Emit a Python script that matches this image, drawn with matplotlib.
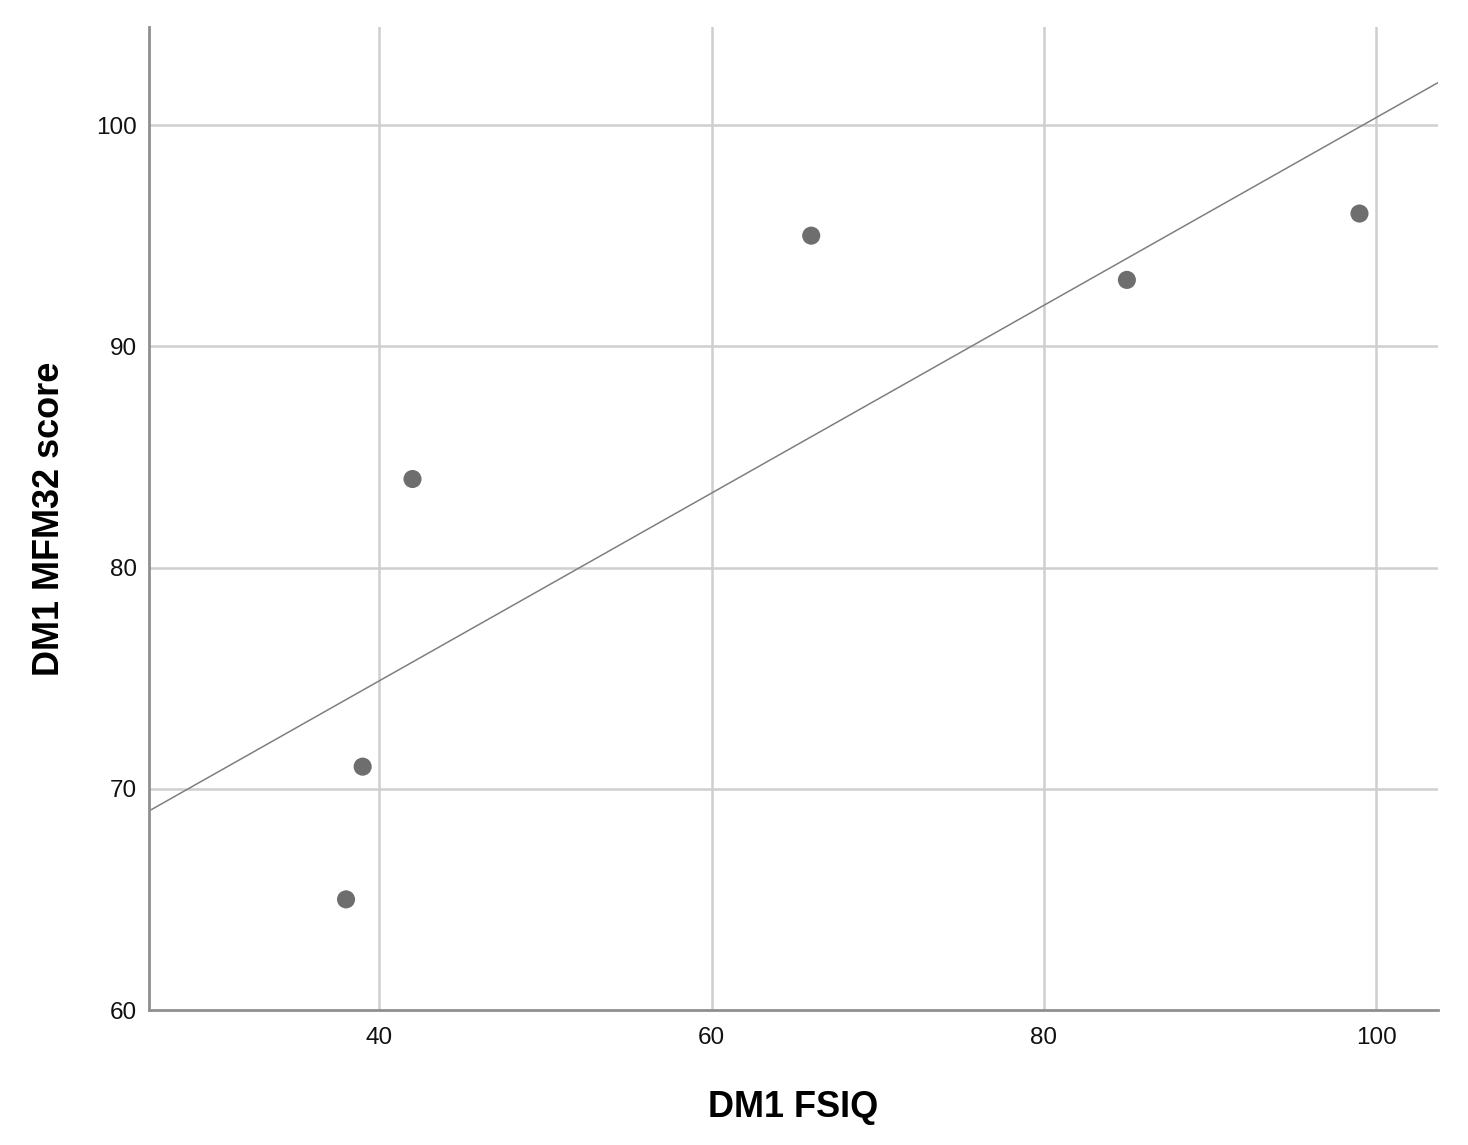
import numpy as np
import matplotlib
matplotlib.use("Agg")
import matplotlib.pyplot as plt

plt.rcParams['font.family'] = ['Liberation Sans', 'DejaVu Sans']

fsiq = [38, 39, 42, 66, 85, 99]
mfm32 = [65, 71, 84, 95, 93, 96]
xticks = [40, 60, 80, 100]
yticks = [60, 70, 80, 90, 100]

fig = plt.figure(figsize=(14.68, 11.45), dpi=100)
ax = fig.add_axes([0.1015, 0.1179, 0.8781, 0.8585])

xlim = (26.14, 103.73)
ylim = (60.0, 104.43)

for xv in xticks:
    ax.axvline(xv, color='#cfcfcf', lw=1.8, zorder=1)
for yv in yticks[1:]:
    ax.axhline(yv, color='#cfcfcf', lw=1.8, zorder=1)

slope, intercept = np.polyfit(fsiq, mfm32, 1)
xl = np.array(xlim)
ax.plot(xl, slope * xl + intercept, color='#7f7f7f', lw=1.1, zorder=2)

ax.scatter(fsiq, mfm32, s=170, color='#6e6e6e', edgecolors='none', zorder=3)

ax.set_xlim(*xlim)
ax.set_ylim(*ylim)
ax.set_xticks(xticks)
ax.set_yticks(yticks)
ax.tick_params(length=0, labelsize=17.5, colors='#111111', pad=12)
ax.tick_params(axis='y', pad=9)

for s in ['top', 'right']:
    ax.spines[s].set_visible(False)
for s in ['left', 'bottom']:
    ax.spines[s].set_color('#8f8f8f')
    ax.spines[s].set_linewidth(2.0)

ax.set_xlabel('DM1 FSIQ', fontsize=26, fontweight='bold', labelpad=30)
ax.set_ylabel('DM1 MFM32 score', fontsize=26, fontweight='bold', labelpad=21)

fig.savefig('out.png', dpi=100, facecolor='white')
